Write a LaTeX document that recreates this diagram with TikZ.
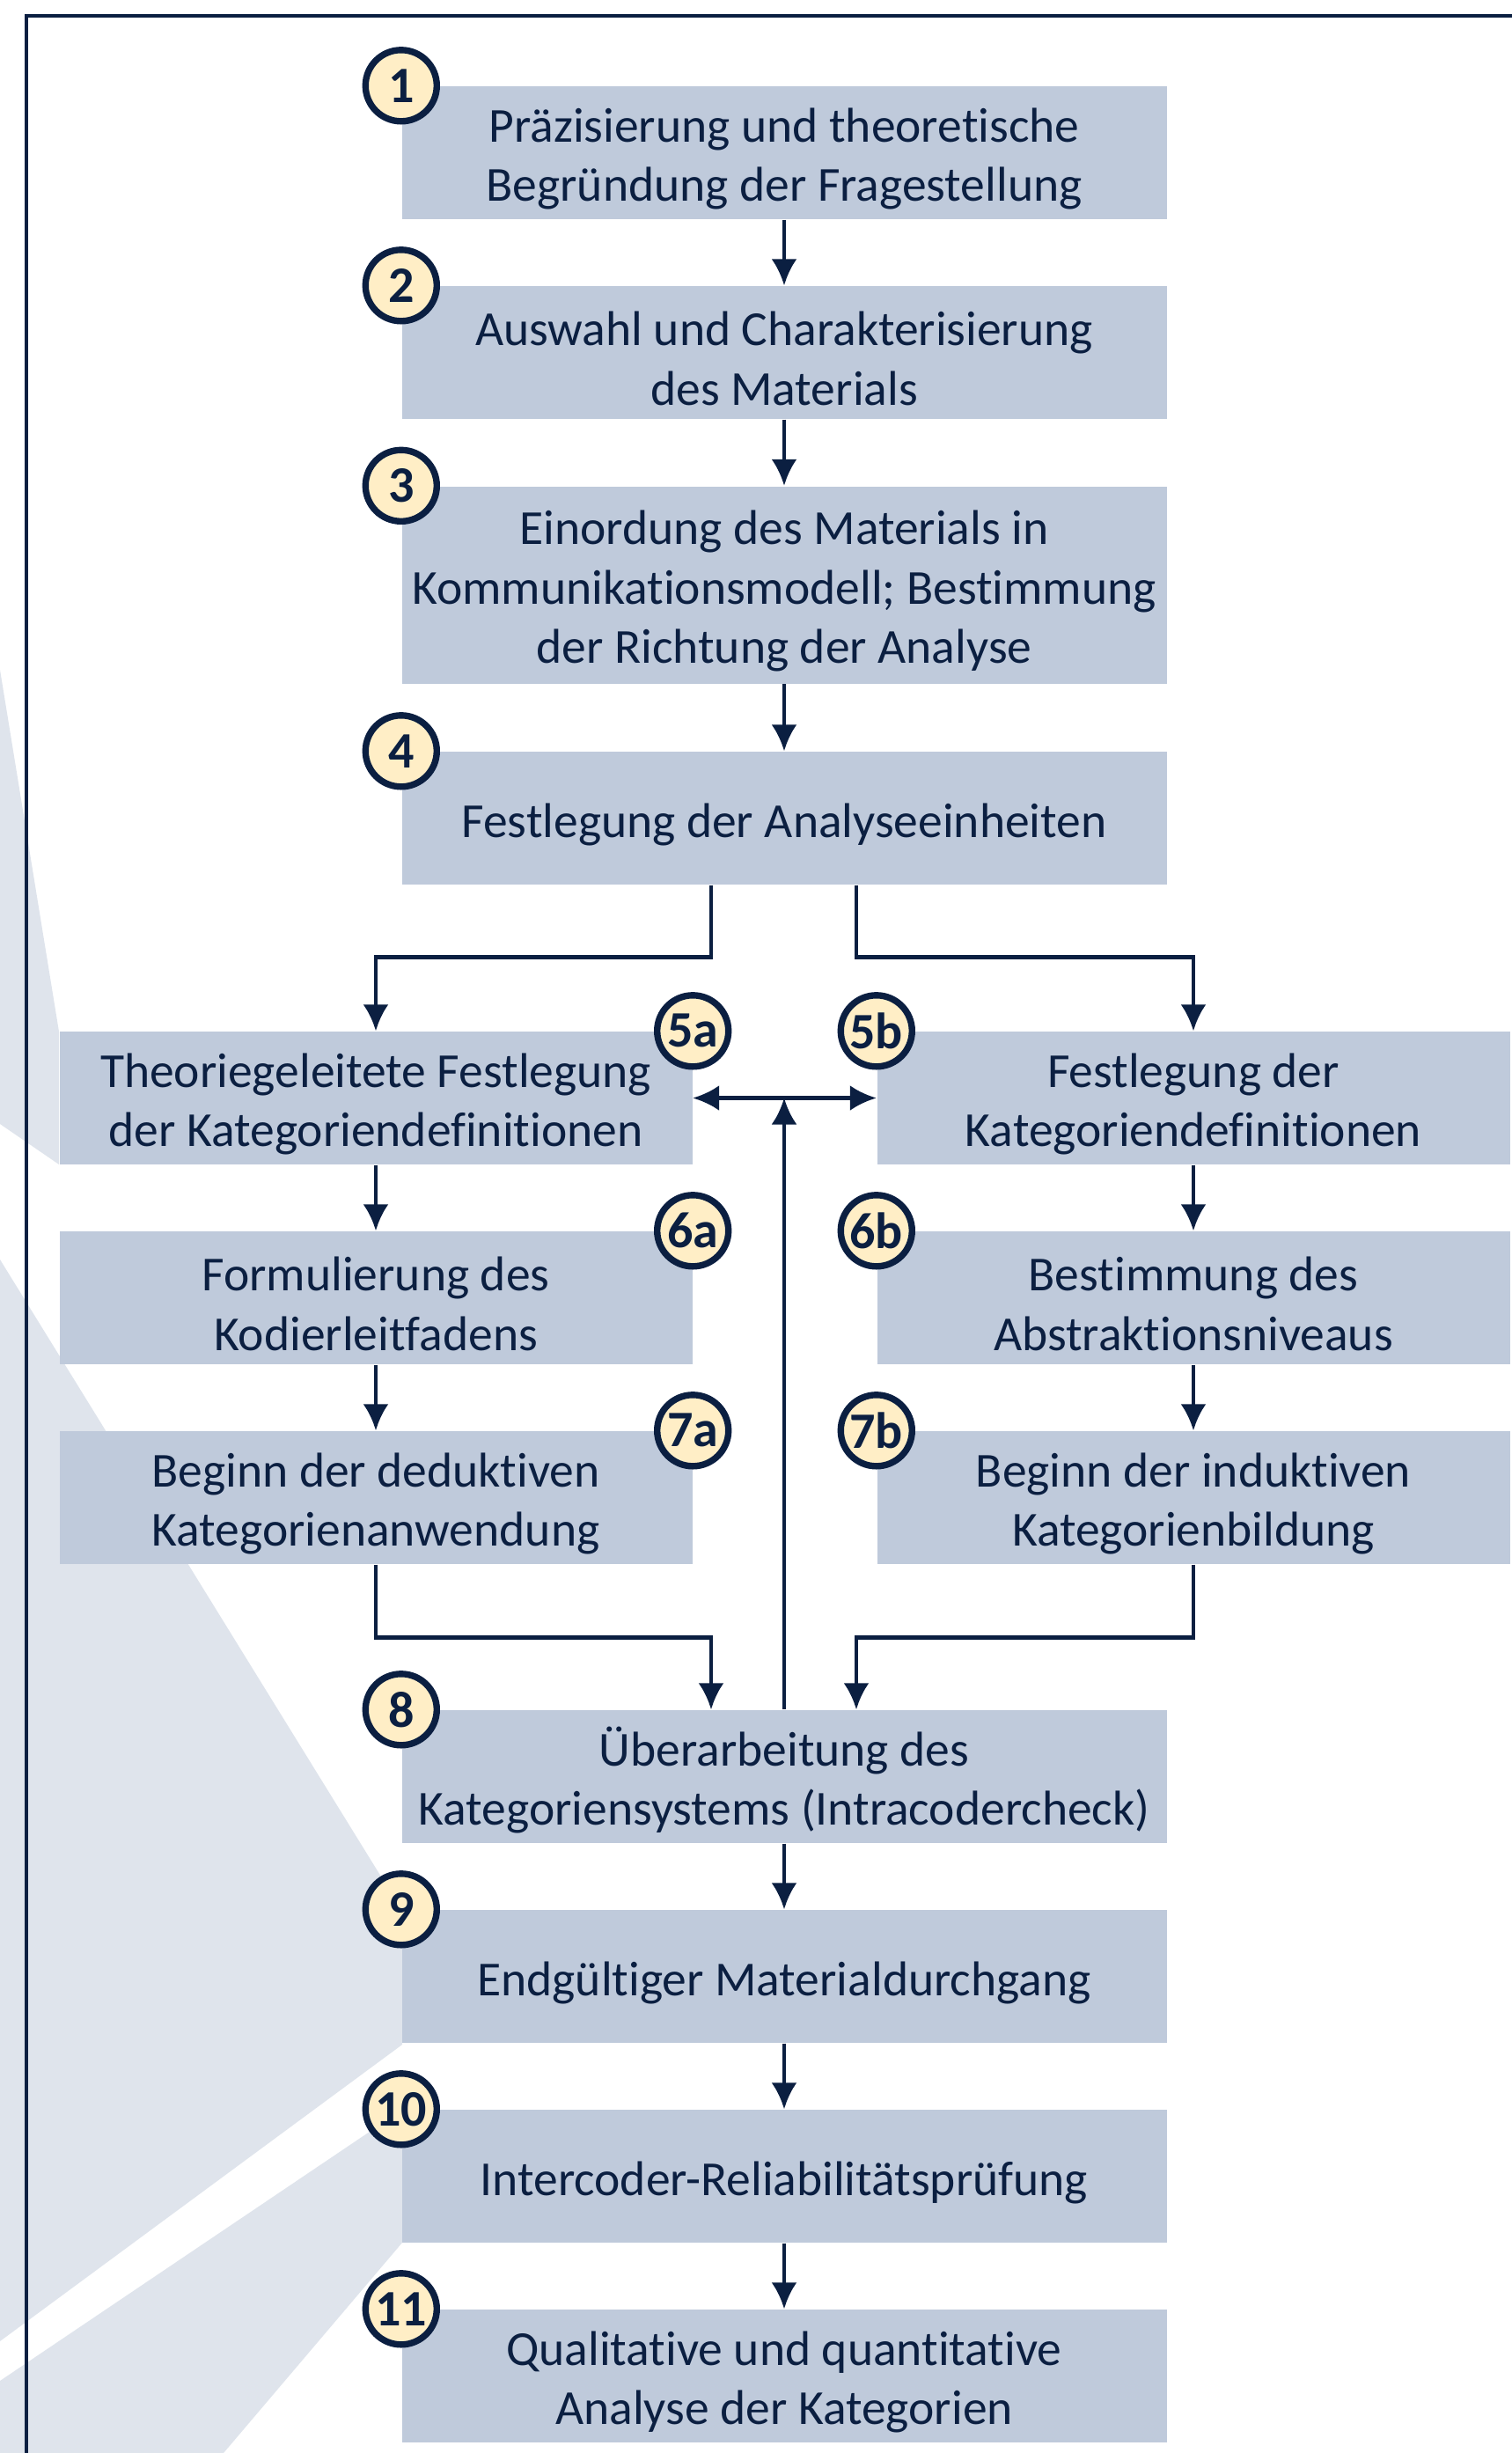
\documentclass[tikz,border=0pt]{standalone}
\usepackage{fontspec}
\setmainfont{Carlito}[Ligatures=NoCommon]
\usepackage{tikz}
\usetikzlibrary{shapes,arrows.meta}
\definecolor{navy}{HTML}{0B1F41}
\definecolor{boxblue}{HTML}{BFCADB}
\definecolor{cream}{HTML}{FFEEC6}
\definecolor{paleblue}{HTML}{DFE4EC}
\tikzset{
	lift/.style     = {execute at begin node = {\rule{0pt}{#1}}},
	stage/.style    = {fill = boxblue, text = navy, align = center, inner sep = 0pt,
		minimum width = 8.69cm, minimum height = 1.51cm,
		font = \fontsize{15.8}{19.2}\selectfont},
	branch/.style   = {stage, minimum width = 7.19cm}, % 5a-7b
	badge/.style    = {circle, draw = navy, fill = cream, line width = 2.1pt,
		minimum size = 0.81cm, inner sep = 0pt, text = navy,
		font = \fontsize{16.5}{17}\selectfont\bfseries},
	flow/.style     = {draw = navy, line width = 1.3pt}
}

\begin{document}
\begin{tikzpicture}[>={Latex[length=3mm, width=2.9mm]}]
	\useasboundingbox (0,0) rectangle (17.18,-27.87);
	
	% background
	\fill[paleblue] (0,-7.61) -- (0.67,-11.72) -- (0.67,-13.23) -- (0,-12.77) -- cycle;
	\fill[paleblue] (0,-14.31) -- (4.57,-21.71) -- (4.57,-23.23) -- (0,-26.60) -- cycle;
	\fill[paleblue] (0,-27.05) -- (4.57,-23.97) -- (4.57,-25.48) -- (2.54,-27.87) -- (0,-27.87) -- cycle;
	\draw[navy, line width = 1.2pt] (17.18,-0.18) -- (0.30,-0.18) -- (0.30,-27.87);
	
	\draw
	node at (8.91,-1.735)[stage, lift=34.2pt] (b1) {Präzisierung und theoretische\\Begründung der Fragestellung}
	node at (8.91,-4.005)[stage, lift=34.2pt] (b2) {Auswahl und Charakterisierung\\des Materials}
	node at (8.91,-6.645)[stage, lift=53.4pt, minimum height = 2.24cm] (b3) {Einordung des Materials in\\Kommunikationsmodell; Bestimmung\\der Richtung der Analyse}
	node at (8.91,-9.295)[stage, lift=15pt] (b4) {Festlegung der Analyseeinheiten}
	node at (4.27,-12.475)[branch, lift=34.2pt] (b5a) {Theoriegeleitete Festlegung\\der Kategoriendefinitionen}
	node at (13.56,-12.475)[branch, lift=34.2pt] (b5b) {Festlegung der\\Kategoriendefinitionen}
	node at (4.27,-14.745)[branch, lift=34.2pt] (b6a) {Formulierung des\\Kodierleitfadens}
	node at (13.56,-14.745)[branch, lift=34.2pt] (b6b) {Bestimmung des\\Abstraktionsniveaus}
	node at (4.27,-17.015)[branch, lift=34.2pt] (b7a) {Beginn der deduktiven\\Kategorienanwendung}
	node at (13.56,-17.015)[branch, lift=34.2pt] (b7b) {Beginn der induktiven\\Kategorienbildung}
	node at (8.91,-20.185)[stage, lift=34.2pt] (b8) {Überarbeitung des\\Kategoriensystems (Intracodercheck)}
	node at (8.91,-22.455)[stage, lift=15pt] (b9) {Endgültiger Materialdurchgang}
	node at (8.91,-24.725)[stage, lift=15pt] (b10) {Intercoder-Reliabilitätsprüfung}
	node at (8.91,-26.995)[stage, lift=34.2pt] (b11) {Qualitative und quantitative\\Analyse der Kategorien};
	
	\draw[flow, ->] (b1) -- (b2);
	\draw[flow, ->] (b2) -- (b3);
	\draw[flow, ->] (b3) -- (b4);
	\draw[flow, ->] ([xshift=-0.83cm]b4.south) -- ++(0,-0.82) -| (b5a.north);
	\draw[flow, ->] ([xshift=0.82cm]b4.south) -- ++(0,-0.82) -| (b5b.north);
	\draw[flow, ->] (b5a) -- (b6a);
	\draw[flow, ->] (b6a) -- (b7a);
	\draw[flow, ->] (b5b) -- (b6b);
	\draw[flow, ->] (b6b) -- (b7b);
	\draw[flow, ->] (b7a.south) -- ++(0,-0.83) -| ([xshift=-0.83cm]b8.north);
	\draw[flow, ->] (b7b.south) -- ++(0,-0.83) -| ([xshift=0.82cm]b8.north);
	\draw[flow, <->] (b5a.east) -- (b5b.west);
	\draw[flow, ->] (b8.north) -- (b8.north |- b5a.east);
	\draw[flow, ->] (b8) -- (b9);
	\draw[flow, ->] (b9) -- (b10);
	\draw[flow, ->] (b10) -- (b11);
	
	\draw
	node at (b1.north west)[badge] (n1) {1}
	node at (b2.north west)[badge] (n2) {2}
	node at (b3.north west)[badge] (n3) {3}
	node at (b4.north west)[badge] (n4) {4}
	node at (b5a.north east)[badge] (n5a) {5a}
	node at (b5b.north west)[badge] (n5b) {5b}
	node at (b6a.north east)[badge] (n6a) {6a}
	node at (b6b.north west)[badge] (n6b) {6b}
	node at (b7a.north east)[badge] (n7a) {7a}
	node at (b7b.north west)[badge] (n7b) {7b}
	node at (b8.north west)[badge] (n8) {8}
	node at (b9.north west)[badge] (n9) {9}
	node at (b10.north west)[badge] (n10) {10}
	node at (b11.north west)[badge] (n11) {11};
\end{tikzpicture}
\end{document}
